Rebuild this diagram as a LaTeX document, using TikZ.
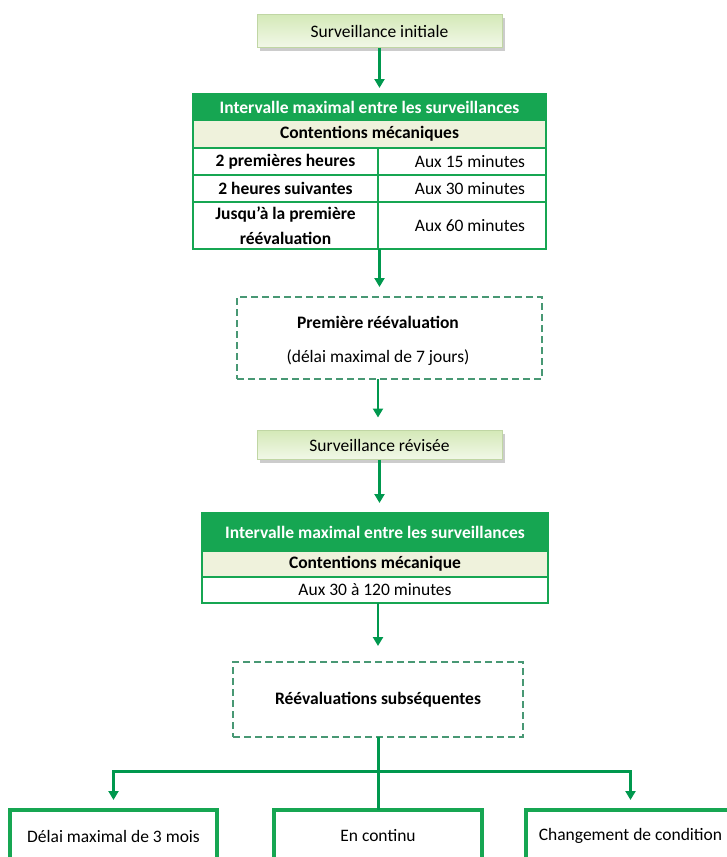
\documentclass[tikz,border=0pt]{standalone}
\usepackage{fontspec}
\setmainfont{Carlito}
\usepackage{tikz}
\usetikzlibrary{arrows.meta,shadows}
\definecolor{cgreen}{RGB}{22,166,82}
\definecolor{carrow}{RGB}{0,152,78}
\definecolor{ccream}{RGB}{239,242,220}
\definecolor{cdash}{RGB}{72,152,116}
\definecolor{cboxtop}{RGB}{212,233,184}
\definecolor{cboxbot}{RGB}{242,248,232}
\definecolor{cboxline}{RGB}{192,214,164}
\newcommand{\diagfont}{\fontsize{17.5}{25}\selectfont}

\begin{document}
\begin{tikzpicture}[x=1pt, y=-1pt,
  font=\diagfont,
  every node/.style={inner sep=0pt, outer sep=0pt},
  stagebox/.style={draw=cboxline, top color=cboxtop, bottom color=cboxbot,
    minimum width=245pt, minimum height=33pt,
    drop shadow={shadow xshift=3pt, shadow yshift=-3pt, fill=black!40, opacity=0.5}},
  hdrcell/.style={draw=cgreen, fill=cgreen, line width=1.2pt, text=white, font=\diagfont\bfseries},
  subcell/.style={draw=cgreen, fill=ccream, line width=1.2pt, font=\diagfont\bfseries},
  cell/.style={draw=cgreen, fill=white, line width=1.2pt, align=center},
  boldcell/.style={cell, font=\diagfont\bfseries},
  dashbox/.style={draw=cdash, line width=1.6pt, dash pattern=on 7pt off 4pt},
  endbox/.style={draw=cgreen, line width=4pt, fill=white, minimum height=52pt},
  arrow/.style={carrow, line width=2.5pt, -{Triangle[length=9pt,width=10pt]}, shorten >=10pt},
  link/.style={carrow, line width=3pt}]
\useasboundingbox (0,0) rectangle (727,857);

% Initial monitoring
\node[stagebox] (init) at (379.5,31) {Surveillance initiale};

% First table
\node[hdrcell, minimum width=353pt, minimum height=26pt] (hdrA) at (369.5,107) {Intervalle maximal entre les surveillances};
\node[subcell, minimum width=353pt, minimum height=28pt] (subA) at (369.5,134) {Contentions mécaniques};
\node[boldcell, minimum width=185pt, minimum height=27pt] (a1l) at (285.5,161.5) {2 premières heures};
\node[cell, minimum width=168pt, minimum height=27pt] (a1r) at (462,161.5) {\hspace*{16pt}Aux 15 minutes};
\node[boldcell, minimum width=185pt, minimum height=27pt] (a2l) at (285.5,188.5) {2 heures suivantes};
\node[cell, minimum width=168pt, minimum height=27pt] (a2r) at (462,188.5) {\hspace*{16pt}Aux 30 minutes};
\node[boldcell, minimum width=185pt, minimum height=47pt] (a3l) at (285.5,225.5) {Jusqu'à la première\\réévaluation};
\node[cell, minimum width=168pt, minimum height=47pt] (a3r) at (462,225.5) {\hspace*{16pt}Aux 60 minutes};
\draw[cgreen, line width=2pt] (hdrA.north west) rectangle (a3r.south east);

% First re-evaluation
\node[dashbox, minimum width=305pt, minimum height=82pt] (firstbox) at (389.5,338) {};
\node[font=\diagfont\bfseries] (firsttxt) at (378,322) {Première réévaluation};
\node (firstsub) at (378,358) {(délai maximal de 7 jours)};

% Revised monitoring
\node[stagebox, minimum height=29pt] (revised) at (379.5,445) {Surveillance révisée};

% Second table
\node[hdrcell, minimum width=346pt, minimum height=38pt] (hdrB) at (375,532) {Intervalle maximal entre les surveillances};
\node[subcell, minimum width=346pt, minimum height=26pt] (subB) at (375,564) {Contentions mécanique};
\node[cell, minimum width=346pt, minimum height=26pt] (b1) at (375,590) {Aux 30 à 120 minutes};
\draw[cgreen, line width=2pt] (hdrB.north west) rectangle (b1.south east);

% Subsequent re-evaluations
\node[dashbox, minimum width=290pt, minimum height=75pt, font=\diagfont\bfseries] (subq) at (378,699.5) {Réévaluations subséquentes};

% Outcomes
\node[endbox, minimum width=207pt] (delai) at (113.5,836) {Délai maximal de 3 mois};
\node[endbox, minimum width=208pt] (cont) at (378,836) {En continu};
\node[endbox, minimum width=209pt] (chg) at (630.5,836) {Changement de condition};

% Arrows
\draw[arrow, shorten >=6pt] (init) -- (init |- hdrA.north);
\draw[arrow] (a3l.south -| init) -- (init |- firstbox.north);
\draw[arrow, shorten >=13pt] (firstbox.south -| firsttxt) -- (firsttxt |- revised.north);
\draw[arrow] (revised.south) -- (revised |- hdrB.north);
\draw[arrow, shorten >=16pt] (b1.south -| subq) -- (subq);
\coordinate (bar) at (378,771);
\draw[link] (subq) -- (cont);
\draw[arrow, line width=3pt] (bar) -| (delai);
\draw[arrow, line width=3pt] (bar) -| (chg);
\end{tikzpicture}
\end{document}
